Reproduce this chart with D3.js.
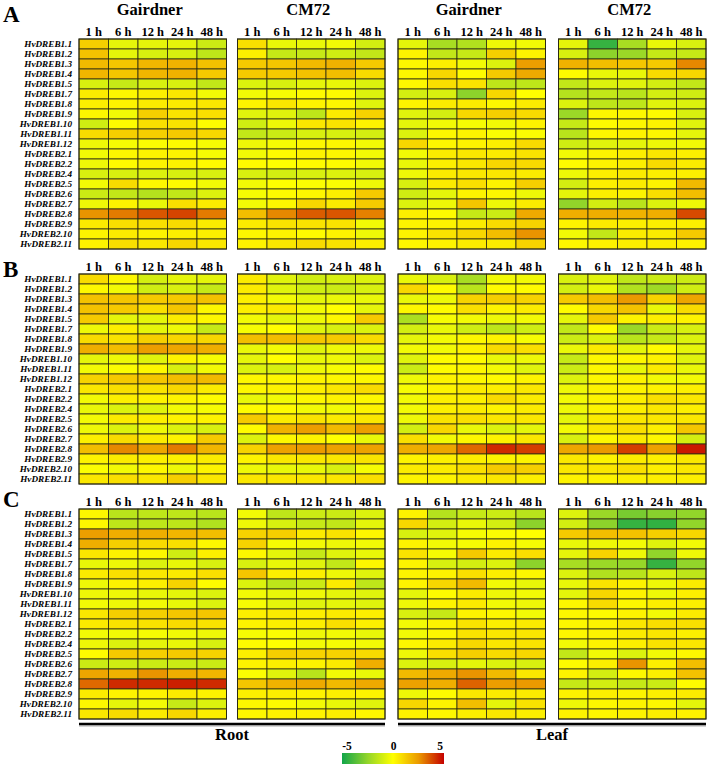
<!DOCTYPE html>
<html><head><meta charset="utf-8">
<script src="https://d3js.org/d3.v7.min.js"></script>
<style>body{margin:0;background:#fff}svg{display:block}</style>
</head><body><div id="chart"></div>
<script>
const genes = ["HvDREB1.1","HvDREB1.2","HvDREB1.3","HvDREB1.4","HvDREB1.5","HvDREB1.7","HvDREB1.8","HvDREB1.9","HvDREB1.10","HvDREB1.11","HvDREB1.12","HvDREB2.1","HvDREB2.2","HvDREB2.4","HvDREB2.5","HvDREB2.6","HvDREB2.7","HvDREB2.8","HvDREB2.9","HvDREB2.10","HvDREB2.11"];
const times = ["1 h","6 h","12 h","24 h","48 h"];
const panels = ["A","B","C"];
const cultivars = ["Gairdner","CM72","Gairdner","CM72"];
const tissues = ["Root","Leaf"];
const legendTicks = [-5,0,5];

// log2 fold change values, rows = genes, cols = times
const A_GairdnerRoot = [[1.2,-0.6,-0.6,-0.6,-1.2],[1.5,-0.6,-0.9,-0.9,-1.5],[1.7,1.4,1.8,1.9,1.5],[1.8,1.4,1.8,1.9,1.3],[-0.9,-1.3,-0.9,-0.9,-1.4],[0.5,0.2,0.4,0.6,-0.3],[0.4,0.3,0.5,0.5,0.6],[0.2,-0.3,1.2,0.7,0.8],[-1.1,0.1,0.8,0.7,0.1],[0.9,1.2,1.2,1.3,1.0],[-0.4,-0.2,-0.1,0.1,-0.2],[-0.3,0.2,0.3,0.3,-0.2],[-0.4,0.1,0.3,0.3,0.1],[-0.9,-0.9,-0.8,-0.9,-0.9],[-0.3,0.9,0.2,0.1,-0.3],[-1.2,-1.4,-1.7,-1.4,-0.8],[-0.4,0.3,-0.5,0.8,0.5],[2.6,3.0,3.6,3.9,3.0],[0.5,0.8,0.8,0.9,0.5],[0.3,0.5,0.3,0.4,0.4],[0.3,0.8,0.6,1.0,0.6]];
const A_CM72Root = [[0.8,-0.5,-0.5,-0.3,-1.0],[0.4,-1.3,-1.3,-1.1,-1.4],[1.3,1.4,1.7,1.9,1.3],[1.3,1.3,1.5,1.6,0.9],[-0.8,-0.9,-0.6,-0.5,-0.8],[-0.3,-0.2,0.1,0.1,-0.8],[0.3,0.6,0.3,0.2,-0.7],[-0.7,-0.7,-1.5,0.5,1.1],[-1.1,-0.4,0.6,0.7,0.3],[-1.4,-1.2,-0.9,-0.9,-1.0],[-0.4,-0.2,0.2,0.2,-0.3],[-0.3,0.1,0.3,0.2,-0.3],[0.1,0.0,0.1,0.1,-0.3],[-0.9,-1.0,-0.9,-0.8,-0.9],[-0.3,0.0,-0.1,-0.1,-0.4],[-0.2,0.1,0.2,0.4,1.3],[-0.3,0.2,1.0,0.5,1.3],[1.6,2.8,3.5,3.6,2.9],[0.5,0.7,0.7,0.7,-0.3],[0.2,0.3,0.1,0.3,-0.4],[0.3,0.6,0.9,0.7,0.4]];
const A_GairdnerLeaf = [[-0.6,-2.0,-1.8,-0.4,-0.3],[0.3,-1.4,-1.3,1.2,0.3],[0.2,0.4,-0.3,-0.8,2.4],[0.2,1.0,0.1,1.3,2.1],[0.2,0.8,0.7,-1.5,-1.5],[-1.0,-0.9,-2.6,1.0,0.0],[0.3,0.5,0.5,0.2,0.5],[-0.7,-1.0,1.0,1.2,0.9],[-0.6,-0.3,-0.2,-0.3,0.3],[-0.8,0.2,0.3,-0.1,-0.1],[1.0,0.2,0.3,0.4,0.9],[-0.3,0.5,0.6,0.5,0.7],[-0.5,0.4,0.6,1.0,0.9],[-0.4,0.5,0.6,0.6,0.5],[-0.9,0.5,0.8,0.3,1.2],[-1.1,-0.6,0.3,0.2,-0.4],[-0.8,-0.4,1.4,-0.4,0.5],[0.4,0.1,-1.3,-1.2,2.1],[0.3,0.3,0.5,0.9,1.1],[0.3,0.7,1.0,1.6,2.6],[0.2,0.3,0.5,0.5,1.1]];
const A_CM72Leaf = [[-0.6,-4.3,-2.0,-0.5,-0.9],[-0.9,-2.6,-2.3,-1.3,-1.3],[1.9,1.6,1.4,1.3,2.8],[0.1,-0.5,-0.5,0.9,1.0],[-1.4,-0.8,-0.7,-1.0,-1.4],[-1.7,-1.4,-1.6,-1.0,-1.1],[-0.8,-1.5,-1.5,-0.7,-0.8],[-2.3,0.2,0.2,0.1,-0.9],[-1.3,0.1,0.2,0.3,-0.7],[-1.6,0.2,0.3,0.2,-0.6],[-1.1,-0.7,-0.6,-0.4,-0.3],[-0.3,0.3,0.4,0.6,0.4],[0.1,0.3,0.4,0.9,0.5],[-0.4,0.4,0.5,0.4,0.4],[-1.0,0.4,0.5,0.3,1.7],[-0.6,0.4,0.3,0.8,1.6],[-2.5,-1.0,-1.6,-0.8,-0.4],[2.0,2.0,1.9,2.0,3.8],[0.3,0.5,0.4,0.4,0.4],[-0.3,-1.4,0.5,0.5,1.3],[0.2,0.3,0.4,0.4,0.3]];

const B_GairdnerRoot = [[0.9,0.2,-1.0,-0.6,-0.6],[0.2,-0.3,-1.1,-0.9,-1.3],[1.5,1.4,1.3,1.3,1.5],[1.5,1.3,0.8,1.4,0.2],[1.3,-0.6,-0.6,0.5,0.2],[-0.4,0.4,-0.6,-0.4,-1.3],[0.9,0.7,1.2,1.0,1.0],[2.0,1.6,2.4,2.2,2.0],[-0.6,-0.4,-0.7,0.3,-0.2],[-0.3,-0.1,0.2,-0.9,-0.3],[1.1,1.3,1.4,1.6,1.7],[0.6,0.8,0.7,1.0,0.5],[-0.3,0.4,0.3,0.3,0.1],[-0.5,-0.8,-0.7,-0.3,-0.2],[-0.3,0.5,0.4,0.3,0.3],[-0.4,-0.8,-0.4,-0.8,-0.9],[0.4,0.9,0.5,0.3,1.3],[1.6,2.8,2.2,3.0,1.8],[0.3,0.5,0.4,0.4,0.5],[-0.1,-0.3,0.2,-0.4,0.3],[0.6,0.8,0.6,1.2,0.6]];
const B_CM72Root = [[0.5,-0.7,-1.1,-0.9,-0.8],[0.5,-0.7,-1.1,-1.2,-0.9],[0.4,-0.3,-0.6,-0.5,-0.5],[0.4,0.5,-0.3,0.0,-0.6],[-0.3,-0.6,-0.4,0.2,1.3],[-0.2,0.0,-0.7,-0.9,-0.8],[1.6,1.6,1.4,1.3,0.9],[-0.5,-0.3,-0.7,-0.4,-0.4],[-0.6,0.0,-0.5,-0.4,-0.8],[-0.8,-0.9,-0.4,-0.2,0.1],[0.2,0.2,0.3,0.2,0.2],[0.2,0.3,0.4,0.6,0.9],[-0.5,-0.3,0.2,0.3,0.2],[0.1,0.1,-0.3,-0.3,0.3],[1.3,0.5,0.7,0.5,0.6],[0.1,1.9,2.4,1.7,2.4],[-0.8,0.2,0.3,0.0,-0.5],[1.1,2.3,2.5,2.3,2.3],[0.3,0.6,0.6,0.6,0.7],[-0.4,-0.5,-0.5,-0.9,-0.2],[0.6,0.6,0.6,0.6,0.8]];
const B_GairdnerLeaf = [[-0.5,-0.9,-2.0,-0.3,-0.3],[1.0,0.1,-1.6,0.1,0.1],[-0.5,-0.4,1.1,1.2,1.1],[0.2,0.1,0.8,0.3,0.5],[-1.9,-0.2,-0.3,-0.4,-0.3],[-1.0,-0.5,-1.1,-1.5,-1.1],[-0.6,-0.3,0.2,0.3,-0.2],[-0.3,-0.3,0.3,0.9,0.8],[-0.7,0.1,0.1,-0.5,-0.4],[-1.2,0.1,0.2,-0.3,-0.7],[-0.4,0.3,0.2,0.1,0.3],[-0.2,0.3,0.5,0.4,0.6],[-0.3,0.4,0.4,0.9,0.5],[-0.3,0.4,0.5,0.3,0.5],[-0.4,0.7,0.8,0.6,0.6],[-1.0,1.0,-0.5,-0.8,-0.6],[0.8,-0.3,0.2,0.3,0.6],[2.0,2.2,3.3,4.3,4.0],[0.3,0.4,0.4,0.3,0.3],[0.5,0.5,0.8,1.3,1.2],[0.3,0.3,0.5,0.6,0.4]];
const B_CM72Leaf = [[-0.9,-0.7,-1.5,-1.2,-1.2],[-1.0,-0.5,-1.8,-2.2,-1.1],[1.3,1.6,2.5,1.1,2.2],[0.1,1.0,1.5,-0.5,0.9],[-0.6,1.3,0.3,0.4,0.3],[-1.4,0.1,-2.3,-1.2,-0.9],[-1.2,-0.8,-1.6,-1.3,-0.8],[-0.5,0.5,-0.6,0.1,-0.6],[-1.3,0.2,0.2,0.3,-0.7],[-1.2,0.2,-0.5,0.5,-0.5],[-0.8,0.2,0.3,-0.3,-0.3],[-0.4,0.3,0.3,0.3,0.4],[-0.3,0.3,0.4,0.8,0.6],[-0.4,0.3,0.4,0.6,0.4],[-0.6,0.5,0.6,0.6,0.6],[-0.3,0.6,0.8,0.4,1.4],[-0.9,0.2,0.5,0.2,-1.0],[2.2,2.5,4.0,2.3,4.6],[0.6,0.3,0.5,0.4,0.6],[0.6,0.6,0.8,0.4,0.6],[0.3,0.3,0.4,0.4,0.4]];

const C_GairdnerRoot = [[0.2,-1.6,-1.5,-1.5,-1.6],[0.2,-1.5,-1.5,-1.5,-1.8],[2.4,2.0,2.0,1.8,1.6],[2.0,1.2,0.9,0.8,0.2],[0.6,0.3,0.2,-1.1,0.4],[-0.5,-0.4,-0.8,-0.5,-0.9],[0.5,0.8,0.6,0.5,0.8],[-0.4,0.3,0.4,1.1,0.1],[-0.4,-0.4,-0.5,-0.6,-0.8],[-0.3,-0.4,-0.3,-0.5,-0.8],[0.6,1.2,1.2,1.4,1.4],[0.5,0.7,0.7,0.9,0.7],[-0.3,-0.3,-0.2,-0.3,-0.4],[-0.4,-0.8,-0.6,-0.5,-0.9],[0.1,1.3,1.2,1.3,1.1],[-1.2,-1.1,-1.2,-1.2,-1.2],[2.2,1.9,2.6,2.0,1.8],[3.3,4.3,4.3,4.5,4.3],[0.5,0.3,0.3,0.5,0.3],[0.2,-0.6,-0.3,-1.3,-0.8],[0.6,0.9,0.5,1.0,0.4]];
const C_CM72Root = [[-0.3,-1.5,-1.2,-1.2,-0.8],[-0.4,-0.9,-1.3,-1.4,-0.6],[1.1,1.2,0.5,0.7,0.2],[1.1,-0.2,-0.3,-0.4,-0.3],[0.2,-0.6,-1.3,-0.7,-0.5],[-0.9,-0.5,-0.7,-1.4,0.2],[1.4,0.4,0.4,-0.4,-0.7],[-0.8,-1.5,-1.2,0.5,-1.5],[-0.3,-0.5,-0.4,-0.6,-0.7],[-0.2,-0.6,-0.7,-0.6,-0.7],[0.4,0.5,0.4,0.5,0.4],[0.3,0.4,0.4,0.8,0.4],[-0.2,-0.1,-0.4,-0.3,-0.5],[0.1,0.0,-0.3,-0.2,-0.3],[0.4,1.2,1.1,1.1,0.9],[0.3,0.4,0.3,0.5,2.0],[-0.1,-0.7,-1.6,-0.3,-0.5],[1.4,1.9,2.1,1.7,2.1],[0.4,0.4,0.3,0.4,0.3],[0.2,0.1,-0.3,-0.5,-0.7],[0.2,0.3,0.3,0.4,0.2]];
const C_GairdnerLeaf = [[0.3,-1.7,-1.3,-1.2,-1.6],[1.0,-1.0,-0.5,-1.0,-2.6],[-0.9,-0.7,-0.2,-0.1,0.0],[0.3,-0.3,-0.2,0.3,-0.2],[0.7,-0.2,1.3,0.5,0.8],[0.3,-0.9,-1.0,-0.8,-2.6],[0.3,0.3,0.8,0.4,0.2],[0.3,1.0,1.7,-0.3,-0.5],[-0.6,0.1,0.5,-0.4,-0.3],[-0.4,0.3,0.5,-0.3,-0.4],[-0.9,-1.3,0.3,0.2,-0.3],[-0.3,0.3,0.7,0.4,0.5],[-0.3,0.2,0.7,0.6,0.6],[0.2,0.5,1.0,0.6,0.7],[-0.4,0.8,1.2,0.9,1.0],[-0.8,-0.9,-0.6,-0.8,-0.9],[1.7,2.1,2.6,1.7,0.6],[2.3,2.0,3.4,2.4,2.5],[-0.4,0.1,0.6,0.5,0.5],[1.0,0.3,1.6,-0.6,0.7],[0.3,0.2,0.4,0.6,0.4]];
const C_CM72Leaf = [[-0.8,-2.3,-3.0,-2.7,-2.5],[-1.0,-2.6,-4.3,-4.4,-2.5],[1.3,1.6,1.5,1.2,1.0],[-0.5,-0.4,-0.3,-0.7,-0.3],[-0.6,1.1,-0.4,-2.5,-0.4],[-2.0,-2.3,-2.4,-4.3,-2.5],[-0.8,-1.8,-1.6,-0.9,-1.5],[-0.5,0.7,0.3,-0.4,0.5],[-0.6,1.0,0.3,-0.4,0.4],[0.2,0.9,0.2,0.4,0.4],[0.2,0.1,0.3,-0.3,0.5],[0.2,0.3,0.6,0.8,0.8],[0.2,0.3,0.5,0.6,0.4],[-0.3,0.3,0.4,0.7,0.6],[-1.4,-0.3,-0.8,-0.3,0.2],[0.1,0.4,2.6,0.4,1.6],[0.3,-1.0,0.2,0.4,1.5],[-1.3,-1.0,-1.3,-1.2,0.1],[0.3,0.4,0.3,0.4,0.5],[-0.4,0.2,0.3,0.2,-0.6],[0.3,0.2,0.3,0.4,0.3]];

const panelData = {
  A: [A_GairdnerRoot, A_CM72Root, A_GairdnerLeaf, A_CM72Leaf],
  B: [B_GairdnerRoot, B_CM72Root, B_GairdnerLeaf, B_CM72Leaf],
  C: [C_GairdnerRoot, C_CM72Root, C_GairdnerLeaf, C_CM72Leaf]
};

const W = 711, H = 770;
const FONT = "'Liberation Serif', 'Times New Roman', 'DejaVu Serif', serif";
const svg = d3.select("#chart").append("svg").attr("width", W).attr("height", H)
  .attr("font-family", FONT).attr("font-weight", "bold");

const color = d3.scaleLinear()
  .domain([-5, -2.5, 0, 2.5, 5])
  .range(["#12a54a", "#92d52a", "#ffff00", "#eb9a00", "#c40000"])
  .clamp(true);

const mapX0 = [79, 237.5, 398, 558.5];
const mapW = 147.5, mapH = 210;
const panelTop = [39, 274, 509];

const x = d3.scaleBand().domain(times).range([0, mapW]);
const y = d3.scaleBand().domain(genes).range([0, mapH]);

function txt(sel) { return sel.attr("font-family", FONT).attr("font-weight", "bold").attr("fill", "#000"); }

// cultivar headers
cultivars.forEach((c, i) => {
  txt(svg.append("text")).attr("x", mapX0[i] + mapW / 2 - 3).attr("y", 15)
    .attr("text-anchor", "middle").attr("font-size", 16.5).text(c);
});

panels.forEach((p, pi) => {
  const top = panelTop[pi];
  txt(svg.append("text")).attr("x", 3).attr("y", [22, 277, 507][pi])
    .attr("font-size", 23).text(p);

  // gene labels
  txt(svg.append("g").selectAll("text").data(genes).join("text"))
    .attr("x", 72).attr("y", d => top + y(d) + y.bandwidth() / 2 + 3.2)
    .attr("text-anchor", "end").attr("font-size", 9.2)
    .attr("font-style", "italic").text(d => d);

  panelData[p].forEach((mat, mi) => {
    const g = svg.append("g").attr("transform", `translate(${mapX0[mi]},${top})`);
    // time labels
    txt(g.selectAll("text.t").data(times).join("text").attr("class", "t"))
      .attr("x", d => x(d) + x.bandwidth() / 2).attr("y", -3.5)
      .attr("text-anchor", "middle").attr("font-size", 12.5).text(d => d);
    const cells = [];
    mat.forEach((row, r) => row.forEach((v, c) => cells.push({g: genes[r], t: times[c], v})));
    g.selectAll("rect").data(cells).join("rect")
      .attr("x", d => x(d.t)).attr("y", d => y(d.g))
      .attr("width", x.bandwidth()).attr("height", y.bandwidth())
      .attr("fill", d => color(d.v))
      .attr("stroke", "#2b2a14").attr("stroke-width", 0.8);
    g.append("rect").attr("width", mapW).attr("height", mapH)
      .attr("fill", "none").attr("stroke", "#2b2a14").attr("stroke-width", 1);
  });
});

// tissue bars
[[0, 1], [2, 3]].forEach((pair, i) => {
  const x1 = mapX0[pair[0]], x2 = mapX0[pair[1]] + mapW;
  svg.append("line").attr("x1", x1).attr("x2", x2).attr("y1", 726).attr("y2", 726)
    .attr("stroke", "#aaa").attr("stroke-width", 1);
  svg.append("line").attr("x1", x1).attr("x2", x2).attr("y1", 724).attr("y2", 724)
    .attr("stroke", "#000").attr("stroke-width", 2.5);
  txt(svg.append("text")).attr("x", (x1 + x2) / 2).attr("y", 740)
    .attr("text-anchor", "middle").attr("font-size", 16.5).text(tissues[i]);
});

// legend
const defs = svg.append("defs");
const grad = defs.append("linearGradient").attr("id", "lg");
d3.range(0, 1.0001, 0.05).forEach(t => {
  grad.append("stop").attr("offset", t).attr("stop-color", color(-5 + 10 * t));
});
const lx = d3.scaleLinear().domain([-5, 5]).range([342, 444]);
svg.append("rect").attr("x", lx(-5)).attr("y", 753).attr("width", lx(5) - lx(-5)).attr("height", 11)
  .attr("fill", "url(#lg)");
const lxt = d3.scaleLinear().domain([-5, 5]).range([347, 440]);
txt(svg.selectAll("text.lg").data(legendTicks).join("text").attr("class", "lg"))
  .attr("x", d => lxt(d)).attr("y", 750).attr("text-anchor", "middle")
  .attr("font-size", 11.5).text(d => d);
</script></body></html>
